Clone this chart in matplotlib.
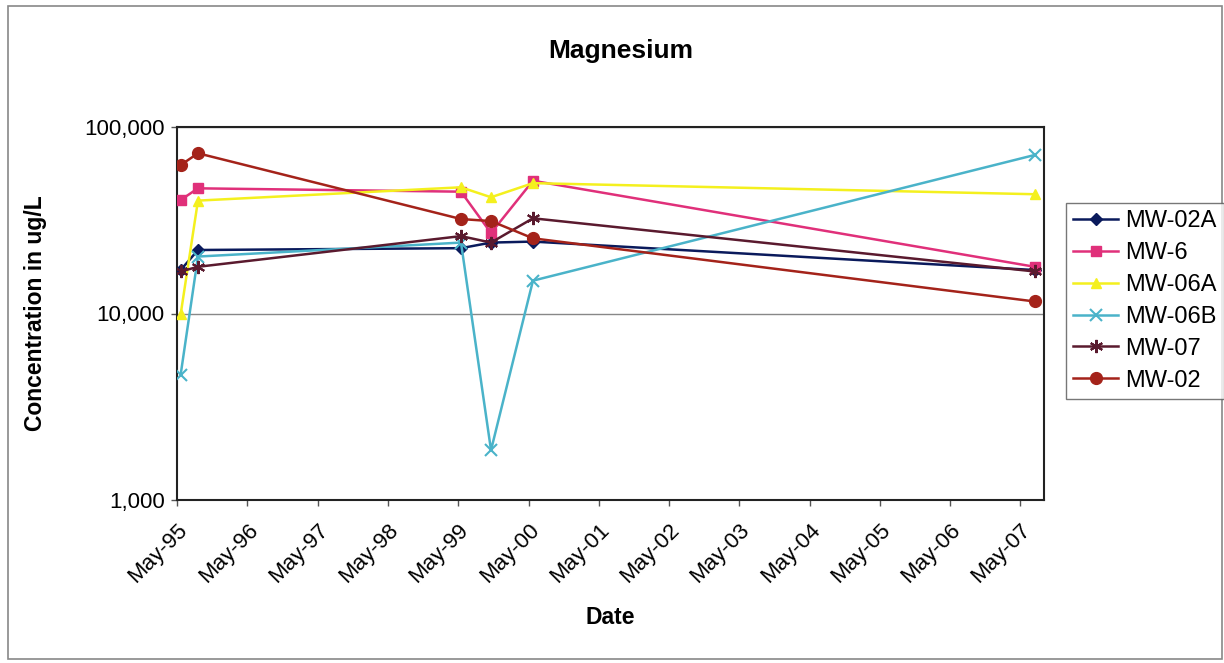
import numpy as np
import matplotlib.pyplot as plt
import matplotlib.dates as mdates
from matplotlib.ticker import FixedLocator, NullLocator, FuncFormatter
from datetime import datetime

plt.rcParams['font.family'] = ['Liberation Sans', 'DejaVu Sans']

# sample dates
dates = [datetime(1995, 5, 20), datetime(1995, 8, 18), datetime(1999, 5, 16),
         datetime(1999, 10, 19), datetime(2000, 5, 24), datetime(2007, 7, 15)]

# concentrations in ug/L
mw_02a = [17100, 21900, 22400, 24000, 24300, 17100]
mw_6 = [40600, 46900, 45000, 27000, 51500, 17800]
mw_06a = [9900, 40300, 47500, 42000, 50000, 43600]
mw_06b = [4700, 20200, 24000, 1850, 15000, 70800]
mw_07 = [16800, 17800, 26000, 24000, 32400, 16800]
mw_02 = [62500, 72300, 32100, 31300, 25300, 11600]

series = [
    ('MW-02A', mw_02a, '#0a1a5c', 'D', 6.5),
    ('MW-6', mw_6, '#e0307a', 's', 7.5),
    ('MW-06A', mw_06a, '#f4f01e', '^', 7.5),
    ('MW-06B', mw_06b, '#4ab3c9', 'x', 8.5),
    ('MW-07', mw_07, '#5a1a2e', (6, 2, 0), 9.5),
    ('MW-02', mw_02, '#a4231a', 'o', 8.5),
]

tick_years = list(range(1995, 2008))

fig = plt.figure(figsize=(12.24, 6.63), dpi=100)
ax = fig.add_axes([177 / 1224, 1 - 500 / 663, (1044 - 177) / 1224, (500 - 127) / 663])

for name, vals, col, mk, ms in series:
    ax.plot(dates, vals, color=col, marker=mk, markersize=ms, linewidth=1.8,
            markeredgewidth=1.5 if mk in ('x', (6, 2, 0)) else 1.0,
            markeredgecolor=col, label=name, zorder=3)

ax.set_yscale('log')
ax.set_ylim(1000, 100000)
ax.yaxis.set_major_locator(FixedLocator([1000, 10000, 100000]))
ax.yaxis.set_minor_locator(NullLocator())
ax.yaxis.set_major_formatter(FuncFormatter(lambda v, p: f'{int(round(v)):,}'))
ax.grid(axis='y', color='#888888', linewidth=1.0, zorder=1)

ax.set_xlim(datetime(1995, 5, 1), datetime(2007, 9, 1))
ax.set_xticks([datetime(y, 5, 1) for y in tick_years])
ax.xaxis.set_major_formatter(mdates.DateFormatter('%b-%y'))
ax.xaxis.set_minor_locator(NullLocator())
plt.setp(ax.get_xticklabels(), rotation=45, ha='right', rotation_mode='anchor')

ax.tick_params(axis='both', direction='out', length=4, width=1, labelsize=16,
               color='#555555')
ax.tick_params(axis='x', pad=10)
ax.tick_params(axis='y', pad=5)
for s in ax.spines.values():
    s.set_linewidth(1.5)
    s.set_color('#222222')

fig.text(621 / 1224, 1 - 51 / 663, 'Magnesium', fontsize=19, fontweight='bold',
         ha='center', va='center')
ax.set_xlabel('Date', fontsize=16.5, fontweight='bold', va='center')
ax.xaxis.set_label_coords((610 - 177) / 867, (500 - 617) / 373)
ax.set_ylabel('Concentration in ug/L', fontsize=16.5, fontweight='bold', va='center')
ax.yaxis.set_label_coords((35 - 177) / 867, 0.5)

leg = fig.legend(loc='upper left', bbox_to_anchor=(1066 / 1224, 1 - 203 / 663),
                 fontsize=17, frameon=True, fancybox=False, edgecolor='#555555',
                 borderpad=0.3, labelspacing=0.42, handlelength=1.9, handletextpad=0.3,
                 borderaxespad=0)
leg.get_frame().set_linewidth(1.0)

# outer chart border
fig.patches.append(plt.Rectangle((8 / 1224, 4 / 663), 1 - 10 / 1224, 1 - 10 / 663,
                                 transform=fig.transFigure, fill=False,
                                 edgecolor='#888888', linewidth=1.2))

fig.savefig('out.png', dpi=100)
